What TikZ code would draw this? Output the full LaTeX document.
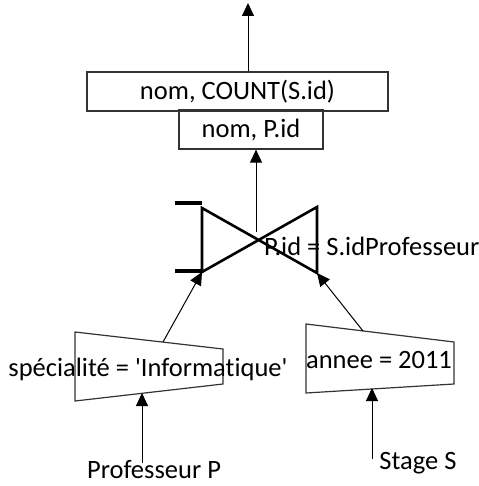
\documentclass[tikz,border=0pt]{standalone}
\usepackage{fontspec}
\setmainfont{Carlito}[Ligatures=NoCommon]
\usetikzlibrary{positioning, arrows.meta}

\begin{document}
\begin{tikzpicture}[
x=1pt, y=-1pt,
lbl/.style={inner sep=0pt, font=\fontsize{26.5}{30}\selectfont},
projbox/.style={draw=black!80, line width=1.2pt, minimum height=39pt, inner sep=0pt},
selshape/.style={draw=black!80, line width=1.2pt},
joinline/.style={line width=2.6pt, line join=miter},
flow/.style={-{Triangle[length=13pt,width=12pt]}, line width=1pt}
]
\useasboundingbox (0,0) rectangle (478,486);

%Projections
\node[projbox, lbl, minimum width=301pt] (count) at (237.5,91.5) {nom, COUNT(S.id)};
\node[projbox, lbl, minimum width=144pt] (proj) at (251,129.5) {nom, P.id};
\coordinate (out) at (248,3);

%Join
\coordinate (jtl) at (202,208);
\coordinate (jbl) at (202,272);
\coordinate (jtr) at (317,207);
\coordinate (jbr) at (317,273);
\coordinate (jc) at (256,232);
\draw[joinline] (jtl) -- (jbl) -- (jtr) -- (jbr) -- cycle;
\draw[line width=4pt] (175,203) -- (202,203);
\draw[line width=4pt] (175,271) -- (202,271);
\node[lbl, anchor=west] (cond) at (264,246) {P.id = S.idProfesseur};

%Selections
\draw[selshape] (75,332) -- (223,349) -- (223,384) -- (75,401) -- cycle;
\draw[selshape] (306,324) -- (454,342) -- (454,384) -- (306,393) -- cycle;
\node[lbl] (spec) at (148,369) {spécialité = \textquotesingle Informatique\textquotesingle};
\node[lbl] (annee) at (379,360) {annee = 2011};
\coordinate (spec-in) at (142,393);
\coordinate (spec-out) at (163,342);
\coordinate (annee-in) at (372,388);
\coordinate (annee-out) at (363,331);

%Relations
\node[lbl] (prof) at (154,470) {Professeur P};
\node[lbl] (stage) at (418,463) {Stage S};

%Arrows
\draw[flow] ([xshift=-12pt,yshift=-2pt]prof.north) -- (spec-in);
\draw[flow] ([yshift=-7pt]stage.north -| annee-in) -- (annee-in);
\draw[flow] (spec-out) -- (jbl);
\draw[flow] (annee-out) -- (jbr);
\draw[flow] (jc) -- (proj.south -| jc);
\draw[flow] (count.north -| out) -- (out);
\end{tikzpicture}
\end{document}
